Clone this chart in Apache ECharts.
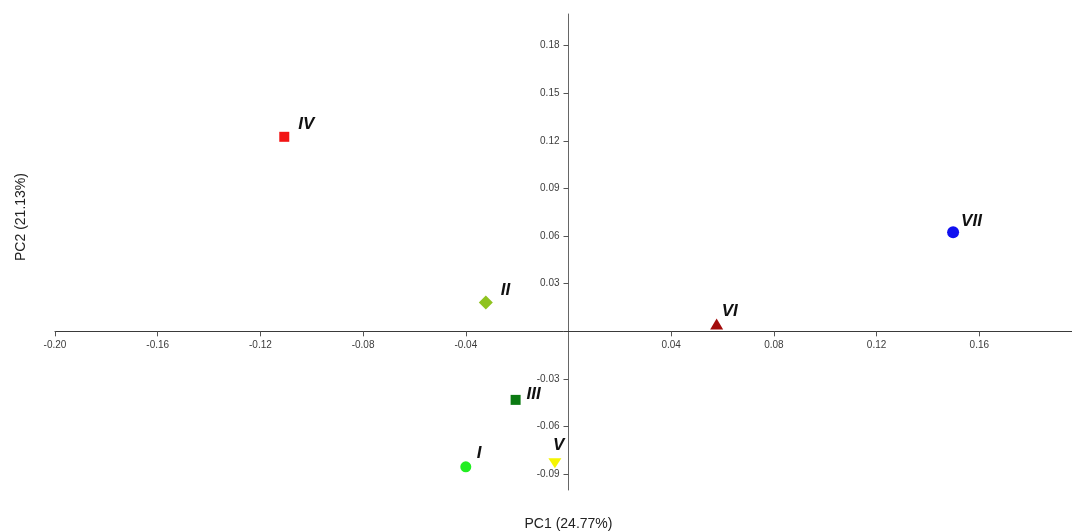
<!DOCTYPE html>
<html>
<head>
<meta charset="utf-8">
<title>PCA scatter</title>
<script src="https://cdn.jsdelivr.net/npm/echarts@6/dist/echarts.min.js"></script>
<style>
  html, body { margin: 0; padding: 0; background: #ffffff; }
  #chart { width: 1072px; height: 532px; }
</style>
</head>
<body>
<div id="chart"></div>
<script>
// Group scores on the first two principal components
const groups = ['I', 'II', 'III', 'IV', 'V', 'VI', 'VII'];
const pc1 = [-0.0400, -0.0322, -0.0206, -0.1107, -0.0053, 0.0577, 0.1498];
const pc2 = [-0.0854, 0.0182, -0.0432, 0.1226, -0.0832, 0.0047, 0.0624];

// Tick labels (zero is left unlabelled on both axes)
const xTicks = [-0.20, -0.16, -0.12, -0.08, -0.04, 0.04, 0.08, 0.12, 0.16];
const yTicks = [-0.09, -0.06, -0.03, 0.03, 0.06, 0.09, 0.12, 0.15, 0.18];

const xTitle = 'PC1 (24.77%)';
const yTitle = 'PC2 (21.13%)';

// Axis extents
const xMin = -0.20, xMax = 0.20;
const yMin = -0.10, yMax = 0.20;

// Plot box in pixels
const box = { left: 55, top: 14, width: 1027, height: 476 };

// Marker look for each group
const markerStyle = {
  'I':   { symbol: 'circle',   size: 11,       rotate: 0,   color: '#22ee22' },
  'II':  { symbol: 'diamond',  size: [14, 14], rotate: 0,   color: '#8fc31f' },
  'III': { symbol: 'rect',     size: 10,       rotate: 0,   color: '#0b7a12' },
  'IV':  { symbol: 'rect',     size: 10,       rotate: 0,   color: '#f21414' },
  'V':   { symbol: 'triangle', size: [13, 10], rotate: 180, color: '#f5f500' },
  'VI':  { symbol: 'triangle', size: [13, 11], rotate: 0,   color: '#a30b0b' },
  'VII': { symbol: 'circle',   size: 12,       rotate: 0,   color: '#1010f0' }
};

// Label placement (left edge / vertical centre relative to the marker centre)
const labelShift = {
  'I':   [11, -14],
  'II':  [15, -12],
  'III': [11, -6],
  'IV':  [14, -12],
  'V':   [-2, -18],
  'VI':  [5, -13],
  'VII': [8, -11]
};

const fmt = v => v.toFixed(2);

// Axes cross at the origin: shift each axis from the box edge to zero
const xAxisShift = -box.height * (0 - yMin) / (yMax - yMin);
const yAxisShift = -box.width * (0 - xMin) / (xMax - xMin);

const series = groups.map((g, i) => {
  const m = markerStyle[g];
  return {
    name: g,
    type: 'scatter',
    symbol: m.symbol,
    symbolSize: m.size,
    symbolRotate: m.rotate,
    itemStyle: { color: m.color, opacity: 1 },
    label: {
      show: true,
      formatter: g,
      position: 'inside',
      align: 'left',
      verticalAlign: 'middle',
      offset: labelShift[g],
      color: '#111111',
      fontFamily: 'Liberation Sans, Arial, sans-serif',
      fontSize: 17,
      fontWeight: 'bold',
      fontStyle: 'italic'
    },
    emphasis: { disabled: true },
    data: [[pc1[i], pc2[i]]]
  };
});

const chart = echarts.init(document.getElementById('chart'), null, { renderer: 'canvas' });

chart.setOption({
  backgroundColor: '#ffffff',
  animation: false,
  grid: Object.assign({ outerBoundsMode: 'none', containLabel: false }, box),
  xAxis: {
    type: 'value',
    position: 'bottom',
    offset: xAxisShift,
    min: xMin,
    max: xMax,
    interval: 0.04,
    splitLine: { show: false },
    axisLine: { onZero: false, lineStyle: { color: '#3a3a3a', width: 1 } },
    axisTick: {
      show: true,
      length: 5,
      customValues: xTicks,
      lineStyle: { color: '#555555' }
    },
    axisLabel: {
      customValues: xTicks,
      formatter: fmt,
      margin: 9,
      color: '#3c3c3c',
      fontFamily: 'Liberation Sans, Arial, sans-serif',
      fontSize: 10
    },
    name: xTitle,
    nameLocation: 'middle',
    nameGap: 186,
    nameTextStyle: {
      color: '#222222',
      fontFamily: 'Liberation Sans, Arial, sans-serif',
      fontSize: 14
    }
  },
  yAxis: {
    type: 'value',
    position: 'left',
    offset: yAxisShift,
    min: yMin,
    max: yMax,
    interval: 0.03,
    splitLine: { show: false },
    axisLine: { onZero: false, lineStyle: { color: '#666666', width: 1 } },
    axisTick: {
      show: true,
      length: 5,
      customValues: yTicks,
      lineStyle: { color: '#555555' }
    },
    axisLabel: {
      customValues: yTicks,
      formatter: fmt,
      margin: 9,
      color: '#3c3c3c',
      fontFamily: 'Liberation Sans, Arial, sans-serif',
      fontSize: 10
    }
  },
  graphic: [{
    type: 'text',
    x: 21,
    y: 217,
    rotation: Math.PI / 2,
    style: {
      text: yTitle,
      fill: '#222222',
      font: '14px "Liberation Sans", Arial, sans-serif',
      align: 'center',
      verticalAlign: 'middle'
    }
  }],
  series: series
});
</script>
</body>
</html>
